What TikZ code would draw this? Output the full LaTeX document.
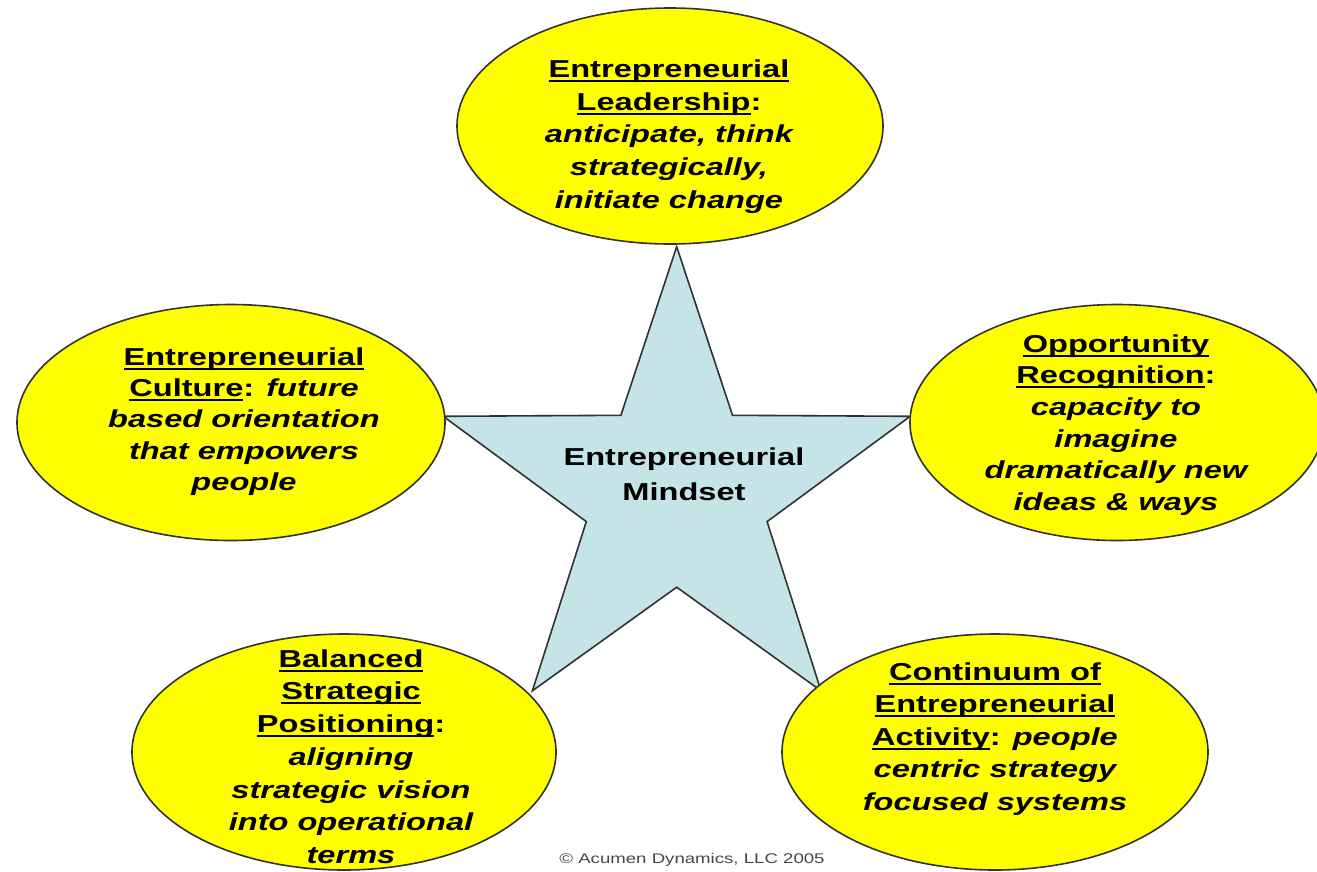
\documentclass[tikz,border=0pt]{standalone}
\usepackage{fontspec}
\setmainfont{Liberation Sans}[FakeStretch=1.33]
\usetikzlibrary{shapes.geometric}
\definecolor{bubbleyellow}{RGB}{255,255,0}
\definecolor{starblue}{RGB}{197,228,232}
\definecolor{edgegray}{RGB}{50,50,50}
\definecolor{copygray}{RGB}{70,70,70}
\newsavebox\ulbox
\newcommand\myul[1]{\sbox\ulbox{#1}\rlap{\rule[-4.3pt]{\wd\ulbox}{2pt}}\usebox\ulbox}
\newcommand\tstrut{\rule{0pt}{20pt}}
\begin{document}
\begin{tikzpicture}[x=1pt,y=-1pt,
  bubble/.style={ellipse, draw=edgegray, line width=1.6pt, fill=bubbleyellow, inner sep=0pt},
  starshape/.style={draw=edgegray, line width=1.6pt, fill=starblue, line join=miter},
  txt/.style={anchor=north, align=center, inner sep=0pt, font=\fontsize{24.5}{#1}\selectfont\bfseries},
  txt/.default=32.6]
\useasboundingbox (0,0) rectangle (1317,871);
\clip (0,0) rectangle (1317,871);
% star
\coordinate (sc) at (676.7,492.2);
\draw[starshape] (676.7,246.7) -- (732.5,415.3) -- (910.2,416.3) -- (767.1,521.6)
  -- (821.0,690.8) -- (676.7,587.2) -- (532.4,690.8) -- (586.3,521.6)
  -- (443.2,416.3) -- (620.9,415.3) -- cycle;
\node[txt=35] (mindtxt) at (684,445) {\tstrut Entrepreneurial\\Mindset};
% ellipses
\node[bubble, minimum width=426pt, minimum height=236pt] (lead) at (670,126) {};
\node[bubble, minimum width=428pt, minimum height=236pt] (cult) at (231,422.5) {};
\node[bubble, minimum width=414pt, minimum height=236pt] (opp) at (1117,422.5) {};
\node[bubble, minimum width=424pt, minimum height=236pt] (bal) at (344,752) {};
\node[bubble, minimum width=426pt, minimum height=236pt] (cont) at (995,752) {};
% texts
\node[txt=32.7] (leadtxt) at (669,57.3) {\tstrut\myul{Entrepreneurial}\\\myul{Leadership}:\\{\itshape anticipate, think}\\{\itshape strategically,}\\{\itshape initiate change}};
\node[txt=31.3] (culttxt) at (244,345) {\tstrut\myul{Entrepreneurial}\\\myul{Culture}: {\itshape future}\\{\itshape based orientation}\\{\itshape that empowers}\\{\itshape people}};
\node[txt=31.6] (opptxt) at (1116,332) {\tstrut\myul{Opportunity}\\\myul{Recognition}:\\{\itshape capacity to}\\{\itshape imagine}\\{\itshape dramatically new}\\{\itshape ideas \& ways}};
\node[txt=32.7] (baltxt) at (351,647) {\tstrut\myul{Balanced}\\\myul{Strategic}\\\myul{Positioning}:\\{\itshape aligning}\\{\itshape strategic vision}\\{\itshape into operational}\\{\itshape terms}};
\node[txt=32.5] (conttxt) at (995,660) {\tstrut\myul{Continuum of}\\\myul{Entrepreneurial}\\\myul{Activity}: {\itshape people}\\{\itshape centric strategy}\\{\itshape focused systems}};
% copyright
\node[anchor=base, inner sep=0pt, font=\fontsize{14}{16}\selectfont, text=copygray] (copy) at (692,863) {© Acumen Dynamics, LLC 2005};
\end{tikzpicture}
\end{document}
